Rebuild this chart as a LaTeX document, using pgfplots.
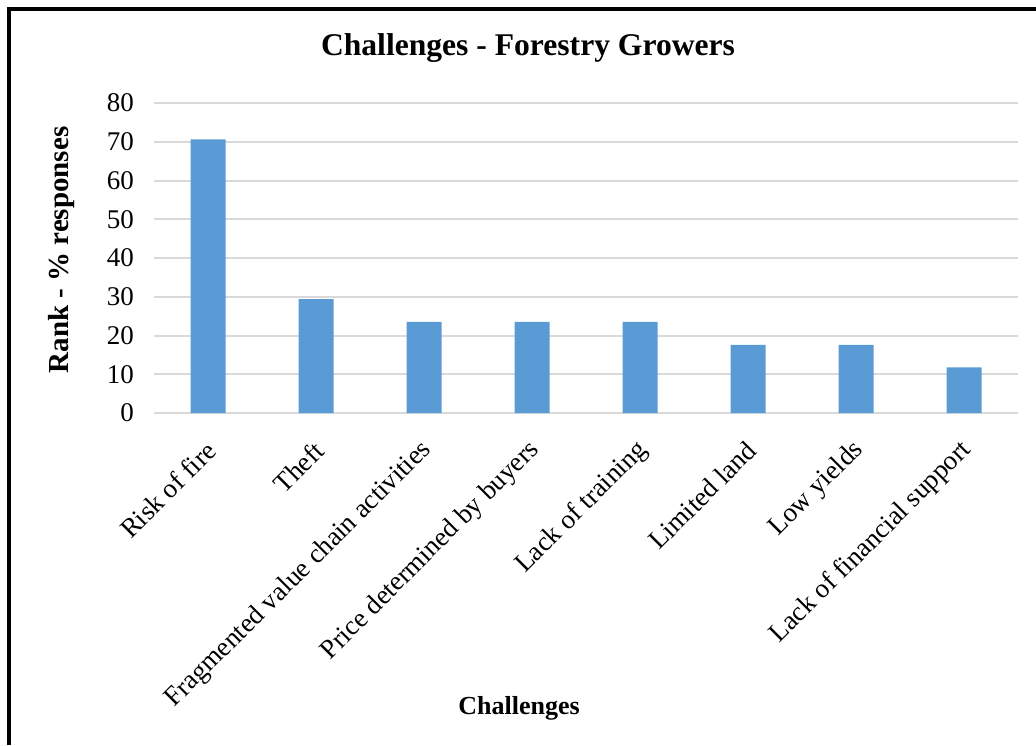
\documentclass[border=0pt]{standalone}
\usepackage{pgfplots}
\pgfplotsset{compat=1.18}
\usepackage{fontspec}
\setmainfont{Liberation Serif}
\definecolor{barblue}{HTML}{5B9BD5}
\definecolor{gridgray}{HTML}{D9D9D9}
\begin{document}
\begin{tikzpicture}
\path[use as bounding box] (0,0) rectangle (518pt,372.5pt);
\draw[line width=1.6pt] (4.5pt,0) -- (4.5pt,368pt) -- (518pt,368pt);
\node[font=\fontsize{15.8}{18}\selectfont\bfseries] at (264pt,348.5pt) {Challenges - Forestry Growers};
\node[font=\fontsize{13}{15}\selectfont\bfseries] at (259.5pt,18.5pt) {Challenges};
\node[font=\fontsize{14.5}{17}\selectfont\bfseries, rotate=90] at (31pt,247.5pt) {Rank - \% responses};
\begin{axis}[
  at={(77pt,166pt)}, anchor=south west,
  width=432pt, height=155pt, scale only axis,
  xmin=-0.5, xmax=7.5, ymin=0, ymax=80,
  ytick={0,10,...,80},
  xtick={0,...,7},
  xticklabels={Risk of fire, Theft, Fragmented value chain activities, Price determined by buyers, Lack of training, Limited land, Low yields, Lack of financial support},
  xticklabel style={rotate=45, anchor=east, font=\fontsize{13.5}{15}\selectfont, xshift=-7pt, yshift=-13pt},
  yticklabel style={font=\fontsize{13.5}{15}\selectfont, xshift=-6.5pt},
  /pgf/number format/assume math mode=true,
  axis line style={draw=none},
  tick style={draw=none},
  ymajorgrids, grid style={gridgray, line width=1pt},
  clip=false,
]
\addplot[ybar, bar width=17.5pt, fill=barblue, draw=none] coordinates {
(0,70.6) (1,29.4) (2,23.5) (3,23.5) (4,23.5) (5,17.6) (6,17.6) (7,11.8)
};
\end{axis}
\end{tikzpicture}
\end{document}
